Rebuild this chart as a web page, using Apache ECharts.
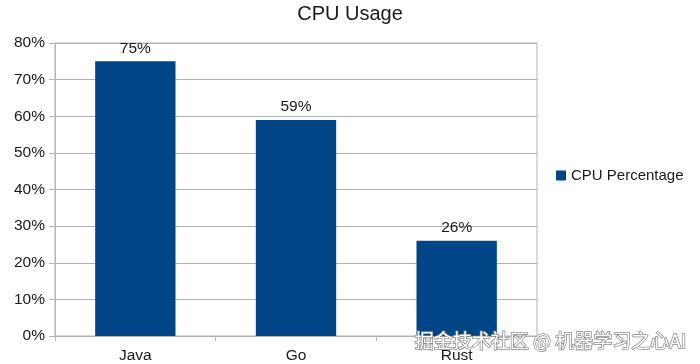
<!DOCTYPE html>
<html><head><meta charset="utf-8">
<script src="https://cdn.jsdelivr.net/npm/echarts@6/dist/echarts.min.js"></script>
<style>html,body{margin:0;padding:0;background:#fff}#c{width:700px;height:364px}</style>
</head><body><div id="c"></div>
<script>
const categories = ['Java', 'Go', 'Rust'];
const cpuValues = [75, 59, 26];
const seriesName = 'CPU Percentage';
const titleText = 'CPU Usage';
const watermark = '掘金技术社区 @ 机器学习之心AI';

const chart = echarts.init(document.getElementById('c'));
const font = 'Liberation Sans, Arial, sans-serif';
chart.setOption({
  animation: false,
  backgroundColor: '#fff',
  title: { text: titleText, left: 'center', top: -1, textStyle: { fontFamily: font, fontSize: 20, fontWeight: 'normal', color: '#1a1a1a' } },
  legend: { left: 551, top: 163, orient: 'vertical', itemWidth: 10, itemHeight: 10, itemGap: 5, icon: 'rect',
    textStyle: { fontFamily: font, fontSize: 15, color: '#1a1a1a' } },
  grid: { left: 55, right: 163, top: 43, bottom: 28, show: true, borderColor: '#b3b3b3', borderWidth: 1 },
  xAxis: { type: 'category', data: categories,
    axisLine: { lineStyle: { color: '#b3b3b3' } },
    axisTick: { show: true, length: 5, lineStyle: { color: '#b3b3b3' } },
    axisLabel: { fontFamily: font, fontSize: 15.5, color: '#1a1a1a', margin: 12 } },
  yAxis: { type: 'value', min: 0, max: 80, interval: 10,
    axisLine: { show: true, lineStyle: { color: '#b3b3b3' } },
    axisTick: { show: true, length: 6, lineStyle: { color: '#b3b3b3' } },
    splitLine: { lineStyle: { color: '#b3b3b3' } },
    axisLabel: { fontFamily: font, fontSize: 15.5, color: '#1a1a1a', formatter: '{value}%', margin: 10 } },
  series: [{ name: seriesName, type: 'bar', data: cpuValues, barCategoryGap: '50%',
    itemStyle: { color: '#004586' },
    label: { show: true, position: 'top', distance: 5, formatter: '{c}%', fontFamily: font, fontSize: 15.5, color: '#1a1a1a' } }],
  graphic: [{ type: 'text', right: 13, top: 331, z: 100,
    style: { text: watermark, font: '19px "Noto Sans CJK SC", sans-serif', fill: '#ffffff', stroke: '#8a8a8a', lineWidth: 1.5 } }]
});
</script></body></html>
